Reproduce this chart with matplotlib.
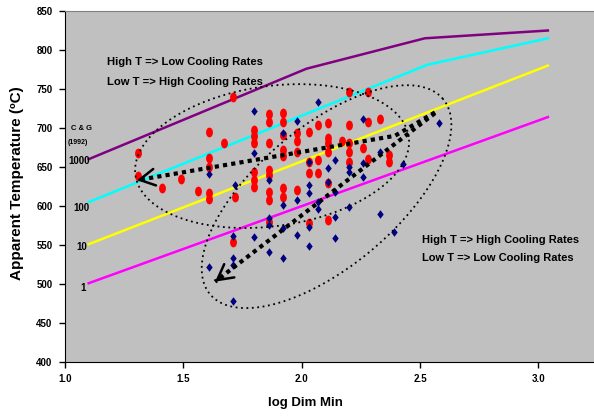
import numpy as np
import matplotlib
matplotlib.use('Agg')
import matplotlib.pyplot as plt
from matplotlib.path import Path
from matplotlib.transforms import Affine2D

# Corrigan & Gibb (1992) cooling-rate curves
cg_x_1000 = [1.10, 2.02, 2.52, 3.04]
cg_y_1000 = [660, 776, 815, 825]
cg_x_100 = [1.10, 2.53, 3.04]
cg_y_100 = [605, 781, 815]
cg_x_10 = [1.10, 3.04]
cg_y_10 = [551, 780]
cg_x_1 = [1.10, 3.04]
cg_y_1 = [501, 714]

# red circles (high T / low cooling group)
red_x = [1.31, 1.31, 1.41, 1.49, 1.56, 1.61, 1.61, 1.61, 1.61, 1.61, 1.67, 1.71, 1.72, 1.71,
         1.80, 1.80, 1.80, 1.80, 1.80, 1.80, 1.86, 1.86, 1.86, 1.86, 1.86, 1.86, 1.86, 1.86,
         1.92, 1.92, 1.92, 1.92, 1.92, 1.92, 1.92, 1.98, 1.98, 1.98, 1.98, 2.03, 2.03, 2.03,
         2.03, 2.07, 2.07, 2.07, 2.11, 2.11, 2.11, 2.11, 2.11, 2.11, 2.17, 2.20, 2.20, 2.20,
         2.20, 2.20, 2.28, 2.28, 2.28, 2.26, 2.33, 2.37, 2.37]
red_y = [668, 638, 623, 635, 619, 695, 662, 650, 617, 609, 681, 740, 612, 554,
         697, 690, 681, 644, 633, 624, 718, 708, 681, 646, 640, 618, 608, 580,
         719, 708, 691, 672, 664, 623, 612, 694, 683, 669, 620, 695, 656, 642,
         578, 704, 659, 642, 706, 687, 681, 669, 630, 582, 683, 746, 704, 681,
         669, 656, 746, 708, 660, 674, 711, 665, 656]

# blue diamonds (high T / high cooling group)
blue_x = [1.80, 2.07, 1.98, 1.92, 1.80, 2.26, 2.58, 2.33, 2.14, 2.11, 2.26, 2.20, 2.20, 2.26,
          2.43, 2.11, 2.14, 2.20, 2.33, 2.14, 2.39, 1.72, 1.86, 1.92, 1.98, 2.03, 2.03, 2.03,
          2.07, 2.07, 1.86, 1.86, 1.71, 1.80, 1.92, 1.98, 2.03, 2.03, 2.14, 1.86, 1.92, 1.71,
          1.71, 1.61, 1.71, 1.61]
blue_y = [722, 733, 709, 694, 668, 712, 706, 669, 659, 649, 655, 650, 644, 637,
          654, 631, 618, 599, 590, 586, 567, 627, 633, 601, 608, 656, 627, 617,
          605, 596, 585, 576, 561, 560, 572, 563, 573, 549, 559, 541, 533, 533,
          524, 522, 478, 641]

x_ticks = [1.0, 1.5, 2.0, 2.5, 3.0]
y_ticks = [400, 450, 500, 550, 600, 650, 700, 750, 800, 850]

narrow = ['Liberation Sans Narrow', 'Liberation Sans', 'DejaVu Sans']

fig = plt.figure(figsize=(5.94, 4.16), dpi=100)
ax = fig.add_axes([65 / 594, 1 - 362 / 416, 1 - 65 / 594, 351 / 416])
ax.set_facecolor('#c0c0c0')
ax.set_xlim(1.0, 3.235)
ax.set_ylim(400, 850)

ax.spines['right'].set_visible(False)
ax.spines['top'].set_color('#808080')
ax.spines['left'].set_color('black')
ax.spines['bottom'].set_color('black')

ax.set_xticks(x_ticks)
ax.set_xticklabels([f'{v:.1f}' for v in x_ticks], family=narrow, fontweight='bold', fontsize=7)
ax.set_yticks(y_ticks)
ax.set_yticklabels([str(v) for v in y_ticks], family=narrow, fontweight='bold', fontsize=7)
ax.tick_params(direction='out', length=4, width=1, pad=5)

ax.set_xlabel('log Dim Min', fontweight='bold', fontsize=9.5, family=narrow)
ax.xaxis.set_label_coords(0.454, -0.1)
ax.set_ylabel('Apparent Temperature (ºC)', fontweight='bold', fontsize=11, family=narrow)
ax.yaxis.set_label_coords(-0.078, 0.51)

# cooling rate curves
ax.plot(cg_x_1000, cg_y_1000, color='#800080', lw=1.8)
ax.plot(cg_x_100, cg_y_100, color='#00ffff', lw=1.8)
ax.plot(cg_x_10, cg_y_10, color='#ffff00', lw=1.8)
ax.plot(cg_x_1, cg_y_1, color='#ff00ff', lw=1.8)

# markers: tall ellipse and narrow diamond
oval = Path.unit_circle().transformed(Affine2D().scale(0.7, 1.0))
diamond = Path([(0, 1), (0.75, 0), (0, -1), (-0.75, 0), (0, 1)], closed=True)
ax.scatter(red_x, red_y, marker=oval, s=50, color='#ff0000', zorder=3, linewidths=0)
ax.scatter(blue_x, blue_y, marker=diamond, s=38, color='#000080', zorder=4, linewidths=0)


def ellipse(cx, cy, a, b, ang):
    # a, b in pixels, angle in degrees (screen space)
    c = ax.transData.transform((cx, cy))
    t = np.linspace(0, 2 * np.pi, 400)
    th = np.radians(ang)
    px = c[0] + a * np.cos(t) * np.cos(th) - b * np.sin(t) * np.sin(th)
    py = c[1] + a * np.cos(t) * np.sin(th) + b * np.sin(t) * np.cos(th)
    pts = ax.transData.inverted().transform(np.column_stack([px, py]))
    ax.plot(pts[:, 0], pts[:, 1], color='black', lw=1.3, ls=(0, (1, 2)), zorder=5)


def arrow(xs, ys):
    ax.plot(xs, ys, color='black', lw=3, ls=(0, (1, 1)), zorder=6)
    hx, hy = xs[-1], ys[-1]
    bx, by = hx + 0.02 * (xs[-2] - hx), hy + 0.02 * (ys[-2] - hy)
    ax.annotate('', xy=(hx, hy), xytext=(bx, by),
                arrowprops=dict(arrowstyle='->,head_length=1.1,head_width=0.6', lw=1.8,
                                color='black', shrinkA=0, shrinkB=0), zorder=7)


ellipse(1.875, 664, 138, 70, 8)
ellipse(2.105, 612, 152, 70, 40)
arrow([2.563, 2.394, 1.304], [720, 690, 633])
arrow([2.563, 1.634], [719, 503])

# annotations
ax.text(1.177, 785, 'High T => Low Cooling Rates', family=narrow, fontweight='bold', fontsize=8.1, va='center')
ax.text(1.177, 759, 'Low T => High Cooling Rates', family=narrow, fontweight='bold', fontsize=8.1, va='center')
ax.text(2.51, 556, 'High T => High Cooling Rates', family=narrow, fontweight='bold', fontsize=8, va='center')
ax.text(2.51, 533, 'Low T => Low Cooling Rates', family=narrow, fontweight='bold', fontsize=8, va='center')

ax.text(1.025, 700, 'C & G', family=narrow, fontweight='bold', fontsize=5.5, va='center')
ax.text(1.013, 682, '(1992)', family=narrow, fontweight='bold', fontsize=5, va='center')
ax.text(1.013, 658, '1000', family=narrow, fontweight='bold', fontsize=7, va='center')
ax.text(1.034, 597, '100', family=narrow, fontweight='bold', fontsize=7, va='center')
ax.text(1.046, 547, '10', family=narrow, fontweight='bold', fontsize=7, va='center')
ax.text(1.063, 495, '1', family=narrow, fontweight='bold', fontsize=7, va='center')

fig.savefig('out.png', dpi=100, facecolor='white')
